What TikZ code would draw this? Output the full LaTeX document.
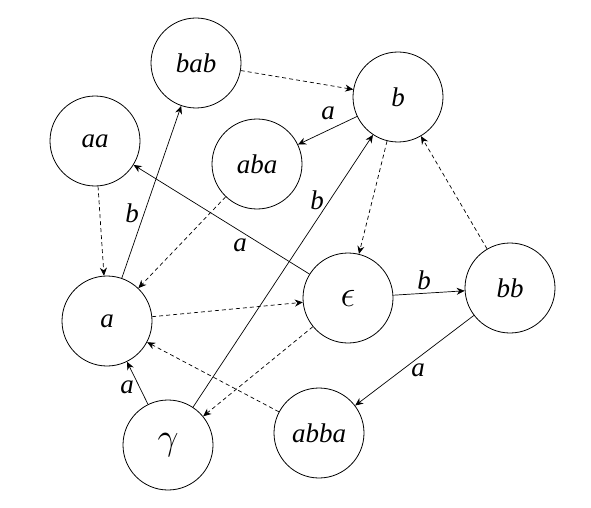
\documentclass[tikz,border=0pt]{standalone}
\usepackage{fontspec}
\setmainfont{Liberation Serif}
\usetikzlibrary{arrows.meta}
\newcommand{\bigmath}[1]{\scalebox{1.5}{$#1$}}
\begin{document}
\begin{tikzpicture}[x=1pt,y=1pt,
  state/.style={circle,draw,line width=0.8pt,minimum size=90pt,inner sep=0pt,font=\fontsize{27}{31}\selectfont\itshape},
  lab/.style={font=\fontsize{27}{31}\selectfont\itshape,inner sep=0pt},
  tr/.style={-{Stealth[length=8pt,width=7pt]},line width=0.7pt},
  dtr/.style={tr,dashed,dash pattern=on 4pt off 3pt}]
\useasboundingbox (0,0) rectangle (591,507);
\node[state] (bab) at (196,444) {bab};
\node[state] (b) at (398,410) {b};
\node[state] (aa) at (95,366) {aa};
\node[state] (aba) at (257,343) {aba};
\node[state] (a) at (107,186) {a};
\node[state] (eps) at (348,209) {\bigmath{\epsilon}};
\node[state] (bb) at (510,219) {bb};
\node[state] (gam) at (168,62) {\bigmath{\gamma}};
\node[state] (abba) at (319,74) {abba};
% solid
\draw[tr] (a) -- (bab);
\draw[tr] (eps) -- (aa);
\draw[tr] (b) -- (aba);
\draw[tr] (gam) -- (b);
\draw[tr] (eps) -- (bb);
\draw[tr] (bb) -- (abba);
\draw[tr] (gam) -- (a);
% dashed
\draw[dtr] (bab) -- (b);
\draw[dtr] (aa) -- (a);
\draw[dtr] (aba) -- (a);
\draw[dtr] (a) -- (eps);
\draw[dtr] (b) -- (eps);
\draw[dtr] (bb) -- (b);
\draw[dtr] (eps) -- (gam);
\draw[dtr] (abba) -- (a);
% labels
\node[lab] (l1) at (132,294) {b};
\node[lab] (l2) at (240,262) {a};
\node[lab] (l3) at (328,394) {a};
\node[lab] (l4) at (317,307) {b};
\node[lab] (l5) at (424,227) {b};
\node[lab] (l6) at (418,137) {a};
\node[lab] (l7) at (127,120) {a};
\end{tikzpicture}
\end{document}
